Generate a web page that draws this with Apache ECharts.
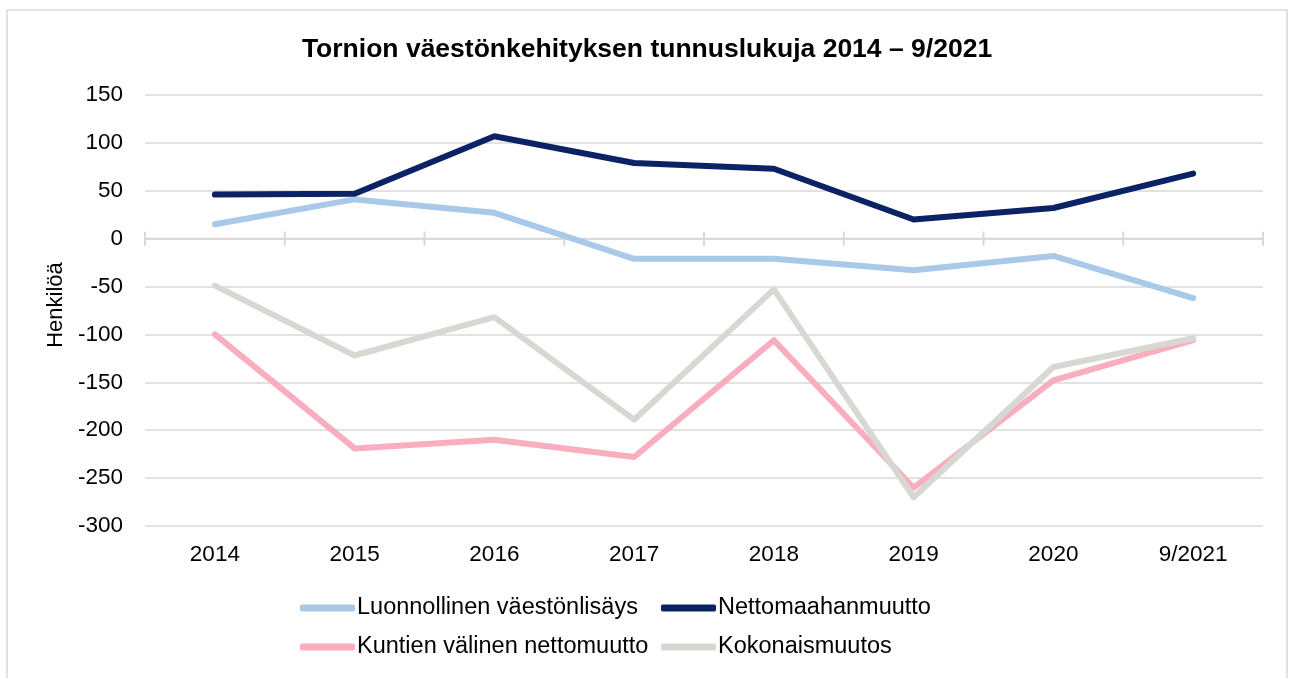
<!DOCTYPE html>
<html>
<head>
<meta charset="utf-8">
<script src="https://cdn.jsdelivr.net/npm/echarts@6/dist/echarts.min.js"></script>
<style>
  html, body { margin: 0; padding: 0; background: #fff; }
  #chart { width: 1294px; height: 678px; }
</style>
</head>
<body>
<div id="chart"></div>
<script>
// kategoriat ja sarjat
const years = ['2014', '2015', '2016', '2017', '2018', '2019', '2020', '9/2021']
const luonnollinen = [15, 41, 27, -21, -21, -33, -18, -62]
const netto = [46, 47, 107, 79, 73, 20, 32, 68]
const kuntien = [-100, -219, -210, -228, -106, -260, -148, -106]
const kokonais = [-49, -122, -82, -189, -53, -270, -134, -104]

const names = ['Luonnollinen väestönlisäys', 'Nettomaahanmuutto', 'Kuntien välinen nettomuutto', 'Kokonaismuutos']
const colors = ['#a9c9e9', '#0b2265', '#f9aec0', '#d8d8d3']
const values = [luonnollinen, netto, kuntien, kokonais]

const font = '"Liberation Sans", Arial, sans-serif'
const chart = echarts.init(document.getElementById('chart'))

const legendBase = {
  orient: 'vertical',
  top: 591,
  itemWidth: 55,
  itemHeight: 7,
  itemGap: 15,
  icon: 'roundRect',
  selectedMode: false,
  textStyle: { color: '#000', fontSize: 23.5, fontFamily: font, padding: [0, 0, 0, -3] }
}

// nollaviiva ja rastit luokkien rajoilla (molemmin puolin viivaa)
function renderZeroAxis (params, api) {
  const i = api.value(0)
  const p = api.coord([i, 0])
  const w = api.size([1, 0])[0]
  const style = { stroke: '#d9d9d9', lineWidth: 2 }
  const xs = [p[0] - w / 2]
  if (i === years.length - 1) xs.push(p[0] + w / 2)
  const children = xs.map(x => ({
    type: 'line',
    shape: { x1: x, y1: p[1] - 7, x2: x, y2: p[1] + 7 },
    style
  }))
  children.push({
    type: 'line',
    shape: { x1: p[0] - w / 2, y1: p[1], x2: p[0] + w / 2, y2: p[1] },
    style
  })
  return { type: 'group', children }
}

chart.setOption({
  animation: false,
  title: {
    text: 'Tornion väestönkehityksen tunnuslukuja 2014 – 9/2021',
    left: 'center',
    top: 31,
    textStyle: { fontSize: 26.5, fontWeight: 'bold', color: '#000', fontFamily: font }
  },
  legend: [
    Object.assign({}, legendBase, { left: 295, data: [names[0], names[2]] }),
    Object.assign({}, legendBase, { left: 656, data: [names[1], names[3]] })
  ],
  grid: { left: 145, right: 31, top: 95, bottom: 152 },
  xAxis: {
    type: 'category',
    data: years,
    axisLine: { show: false, onZero: false },
    axisTick: { show: false },
    axisLabel: { color: '#000', fontSize: 22.5, fontFamily: font, margin: 17 }
  },
  yAxis: {
    type: 'value',
    min: -300,
    max: 150,
    interval: 50,
    axisLine: { show: false },
    axisTick: { show: false },
    axisLabel: { color: '#000', fontSize: 22.5, fontFamily: font, margin: 22 },
    splitLine: { lineStyle: { color: '#d9d9d9', width: 1.5 } }
  },
  graphic: [
    {
      type: 'rect',
      shape: { x: 7, y: 10, width: 1280, height: 700 },
      style: { fill: 'none', stroke: '#d9d9d9', lineWidth: 1.5 },
      silent: true
    },
    {
      type: 'text',
      x: 56,
      y: 305,
      rotation: Math.PI / 2,
      style: {
        text: 'Henkilöä',
        fill: '#000',
        font: '22px ' + font,
        align: 'center',
        verticalAlign: 'middle'
      }
    }
  ],
  series: [
    {
      type: 'custom',
      silent: true,
      z: 1,
      renderItem: renderZeroAxis,
      data: years.map((y, i) => [i, 0])
    }
  ].concat(values.map((v, i) => ({
    name: names[i],
    type: 'line',
    z: 2,
    data: v,
    showSymbol: false,
    symbol: 'none',
    itemStyle: { color: colors[i] },
    lineStyle: { color: colors[i], width: 6, cap: 'round', join: 'round' }
  })))
})
</script>
</body>
</html>
